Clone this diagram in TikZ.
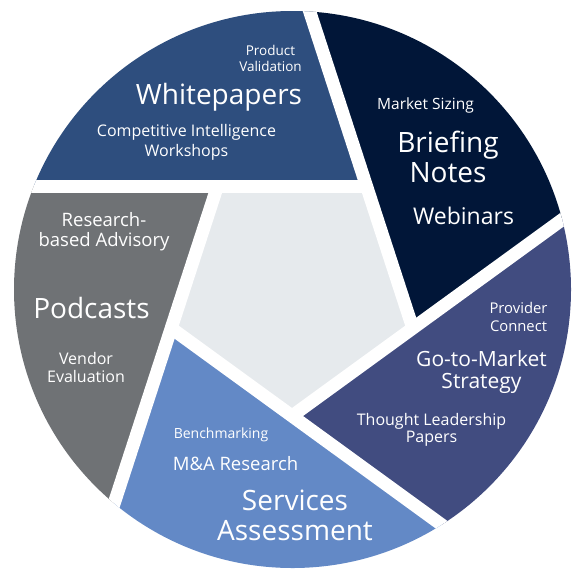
\documentclass[tikz,border=0pt]{standalone}
\usepackage{fontspec}
\setmainfont{Open Sans}
\usetikzlibrary{calc}
\definecolor{cWhite}{RGB}{46,78,126}
\definecolor{cBrief}{RGB}{1,22,56}
\definecolor{cGtm}{RGB}{65,76,128}
\definecolor{cServ}{RGB}{99,137,198}
\definecolor{cPod}{RGB}{111,114,117}
\definecolor{cPent}{RGB}{230,234,237}
\tikzset{
  lbl/.style={text=white, inner sep=0pt, align=center},
  gapline/.style={draw=white, line width=13pt, line cap=butt},
}
\newcommand{\fs}[2]{\fontsize{#1}{#2}\selectfont}
\begin{document}
\begin{tikzpicture}[x=1pt,y=-1pt]
\useasboundingbox (0,0) rectangle (585,581);
\coordinate (O) at (292.5,289.5);
\coordinate (Vb) at (292,416);
\coordinate (Vr) at (412.8,328.2);
\coordinate (Vtr) at (366.6,186.3);
\coordinate (Vtl) at (217.4,186.3);
\coordinate (Vl) at (171.2,328.2);
\coordinate (fA) at ($(Vtr)!5!(Vtl)$);
\coordinate (fB) at ($(Vr)!5!(Vtr)$);
\coordinate (fC) at ($(Vb)!5!(Vr)$);
\coordinate (fD) at ($(Vl)!5!(Vb)$);
\coordinate (fE) at ($(Vtl)!5!(Vl)$);
\begin{scope}
\clip (O) circle (278.5);
% whitepapers
\fill[cWhite] (Vtr) -- (Vtl) -- (fA) -- (fA |- fB) -- (fB) -- cycle;
% briefing notes
\fill[cBrief] (Vr) -- (Vtr) -- (fB) -- (fB -| fC) -- (fC) -- cycle;
% go-to-market
\fill[cGtm] (Vb) -- (Vr) -- (fC) -- (fC |- fD) -- (fD) -- cycle;
% services
\fill[cServ] (Vl) -- (Vb) -- (fD) -- (fD |- fE) -- (fE) -- cycle;
% podcasts
\fill[cPod] (Vtl) -- (Vl) -- (fE) -- (fE -| fA) -- (fA) -- cycle;
% pentagon
\fill[cPent] (Vb) -- (Vr) -- (Vtr) -- (Vtl) -- (Vl) -- cycle;
\draw[gapline] (Vtr) -- (fA);
\draw[gapline] (Vr) -- (fB);
\draw[gapline] (Vb) -- (fC);
\draw[gapline] (Vl) -- (fD);
\draw[gapline] (Vtl) -- (fE);
\end{scope}
% Whitepapers
\node[lbl, font=\fs{13.5}{16}] (pv) at (270.5,58) {Product\\Validation};
\node[lbl, font=\fs{28}{30}] (wp) at (219,97) {Whitepapers};
\node[lbl, font=\fs{16}{19.5}] (ci) at (186.5,142.5) {Competitive Intelligence\\Workshops};
% Briefing Notes
\node[lbl, font=\fs{15.5}{18}] (ms) at (425.5,105) {Market Sizing};
\node[lbl, font=\fs{28}{30}] (bn) at (448,157) {Briefing\\Notes};
\node[lbl, font=\fs{23}{26}] (wb) at (463.5,216) {Webinars};
% Go-to-Market
\node[lbl, font=\fs{14.8}{18}] (pc) at (518.5,317) {Provider\\Connect};
\node[lbl, font=\fs{21}{22}] (gm) at (481.5,372) {Go-to-Market\\Strategy};
\node[lbl, font=\fs{16}{17}] (tl) at (431.5,429.5) {Thought Leadership\\Papers};
% Services
\node[lbl, font=\fs{14}{16}] (bm) at (221,435) {Benchmarking};
\node[lbl, font=\fs{18.5}{20}] (ma) at (235.5,464) {M\&A Research};
\node[lbl, font=\fs{28}{30}] (sa) at (295,515) {Services\\Assessment};
% Podcasts
\node[lbl, font=\fs{18.5}{20}] (rb) at (104,232) {Research-\\based Advisory};
\node[lbl, font=\fs{28}{30}] (pd) at (91.5,308) {Podcasts};
\node[lbl, font=\fs{16}{18}] (ve) at (86,367) {Vendor\\Evaluation};
\end{tikzpicture}
\end{document}
